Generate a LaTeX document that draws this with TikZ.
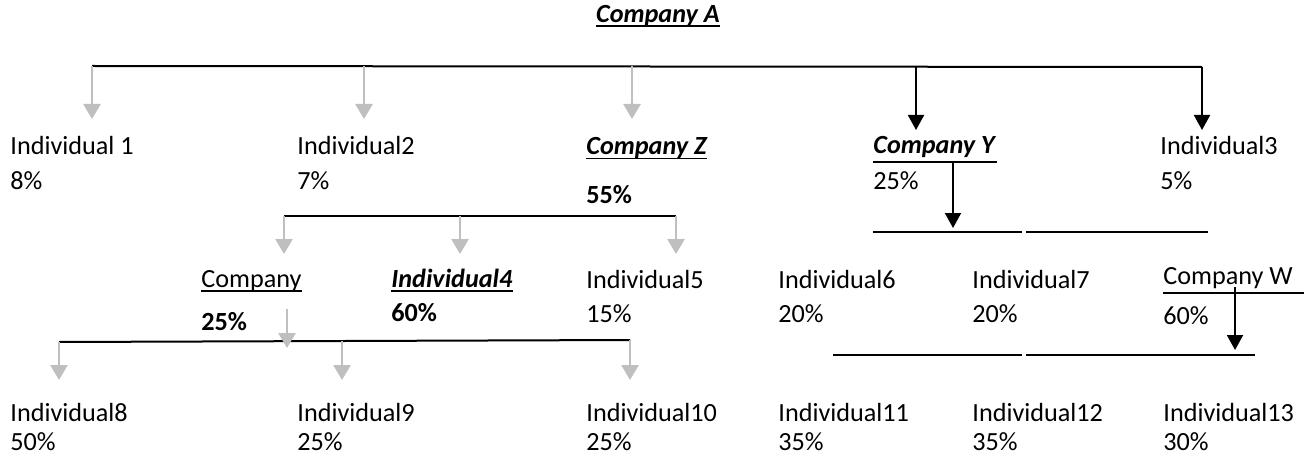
\documentclass[tikz,border=0pt]{standalone}
\usepackage{fontspec}
\setmainfont{Carlito}
\usetikzlibrary{arrows.meta}
\definecolor{arrgray}{HTML}{BFBFBF}
\tikzset{
 lbl/.style={anchor=base west, inner sep=0pt, font=\fontsize{13.1}{15}\selectfont},
 blbl/.style={lbl, font=\fontsize{13.1}{15}\selectfont\bfseries},
 bilbl/.style={lbl, font=\fontsize{13.1}{15}\selectfont\bfseries\itshape},
 bar/.style={line width=1pt, black},
 uline/.style={line width=0.8pt, black},
 garr/.style={line width=1.4pt, arrgray, -{Triangle[width=8.5pt,length=7.5pt]}},
 barr/.style={line width=1pt, black, -{Triangle[width=8pt,length=7.5pt]}},
}
\begin{document}
\begin{tikzpicture}[x=0.5pt,y=-0.5pt]
\useasboundingbox (0,0) rectangle (1304,454);

% ---------- labels ----------
\node[bilbl, anchor=base] (cA) at (658,23) {Company A};

\node[lbl]   (n1) at (10,155)  {Individual 1};
\node[lbl]   (p1) at (10,190)  {8\%};
\node[lbl]   (n2) at (297,155) {Individual2};
\node[lbl]   (p2) at (297,190) {7\%};
\node[bilbl] (nZ) at (586,155) {Company Z};
\node[blbl]  (pZ) at (586,204) {55\%};
\node[bilbl] (nY) at (873,154) {Company Y};
\node[lbl]   (pY) at (873,190) {25\%};
\node[lbl]   (n3) at (1160,155) {Individual3};
\node[lbl]   (p3) at (1160,190) {5\%};

\node[lbl]   (nC) at (201,287) {Company};
\node[blbl]  (pC) at (201,330) {25\%};
\node[bilbl] (n4) at (391,287) {Individual4};
\node[blbl]  (p4) at (391,321) {60\%};
\node[lbl]   (n5) at (586,288) {Individual5};
\node[lbl]   (p5) at (586,322) {15\%};
\node[lbl]   (n6) at (778,288) {Individual6};
\node[lbl]   (p6) at (778,322) {20\%};
\node[lbl]   (n7) at (972,288) {Individual7};
\node[lbl]   (p7) at (972,322) {20\%};
\node[lbl]   (nW) at (1163,284) {Company W};
\node[lbl]   (pW) at (1163,324) {60\%};

\node[lbl] (n8)  at (10,421)   {Individual8};
\node[lbl] (q8)  at (10,450)   {50\%};
\node[lbl] (n9)  at (297,421)  {Individual9};
\node[lbl] (q9)  at (297,450)  {25\%};
\node[lbl] (n10) at (586,421)  {Individual10};
\node[lbl] (q10) at (586,450)  {25\%};
\node[lbl] (n11) at (778,421)  {Individual11};
\node[lbl] (q11) at (778,450)  {35\%};
\node[lbl] (n12) at (972,421)  {Individual12};
\node[lbl] (q12) at (972,450)  {35\%};
\node[lbl] (n13) at (1163,421) {Individual13};
\node[lbl] (q13) at (1163,450) {30\%};

% ---------- underlines ----------
\draw[uline] ([yshift=-1.6pt]cA.base west) -- ([yshift=-1.6pt]cA.base east);
\draw[uline] ([yshift=-1.8pt]nZ.base west) -- ([yshift=-1.8pt]nZ.base east);
\draw[uline] ([yshift=-2pt]nC.base west) -- ([yshift=-2pt]nC.base east);
\draw[uline] ([yshift=-2pt]n4.base west) -- ([yshift=-2pt]n4.base east);
\coordinate (yl) at (873,162); \coordinate (yr) at (997,162);
\draw[bar] (yl) -- (yr);
\coordinate (wl) at (1163,293); \coordinate (wr) at (1304,293);
\draw[bar] (wl) -- (wr);

% ---------- coordinates ----------
\coordinate (tA1) at (92,66);   \coordinate (tA2) at (364,66);
\coordinate (tA3) at (632,66);  \coordinate (tA4) at (916,66);
\coordinate (tA5) at (1202,67);
\coordinate (e1) at (92,119);   \coordinate (e2) at (364,119);
\coordinate (e3) at (632,119);  \coordinate (e4) at (916,130);
\coordinate (e5) at (1202,130);

\coordinate (zL) at (284,216); \coordinate (zM) at (460,216); \coordinate (zR) at (676,216);
\coordinate (fC) at (284,254); \coordinate (f4) at (460,254); \coordinate (f5) at (676,254);

\coordinate (ys) at (953,162); \coordinate (ye) at (953,228);
\coordinate (rL) at (873,232); \coordinate (rG1) at (1022,232);
\coordinate (rG2) at (1026,232); \coordinate (rR) at (1208,232);

\coordinate (ws) at (1235,287); \coordinate (we) at (1235,350);
\coordinate (sL) at (833,355); \coordinate (sG1) at (1022,355);
\coordinate (sG2) at (1026,355); \coordinate (sR) at (1255,355);

\coordinate (cs) at (287,309); \coordinate (ce) at (287,348);
\coordinate (lL) at (59,342); \coordinate (lM) at (342,341); \coordinate (lR) at (630,340);
\coordinate (g8) at (59,380); \coordinate (g9) at (342,380); \coordinate (g10) at (630,380);

% ---------- black bars ----------
\draw[bar] (tA1) -- (tA5);
\draw[bar] (zL) -- (zR);
\draw[bar] (rL) -- (rG1);
\draw[bar] (rG2) -- (rR);
\draw[bar] (sL) -- (sG1);
\draw[bar] (sG2) -- (sR);
\draw[bar] (lL) -- (lR);

% ---------- arrows ----------
\draw[garr] (tA1) -- (e1);
\draw[garr] (tA2) -- (e2);
\draw[garr] (tA3) -- (e3);
\draw[barr] (tA4) -- (e4);
\draw[barr] (tA5) -- (e5);

\draw[garr] (zL) -- (fC);
\draw[garr] (zM) -- (f4);
\draw[garr] (zR) -- (f5);

\draw[barr] (ys) -- (ye);
\draw[barr] (ws) -- (we);

\draw[garr] (cs) -- (ce);
\draw[garr] (lL) -- (g8);
\draw[garr] (lM) -- (g9);
\draw[garr] (lR) -- (g10);
\end{tikzpicture}
\end{document}
